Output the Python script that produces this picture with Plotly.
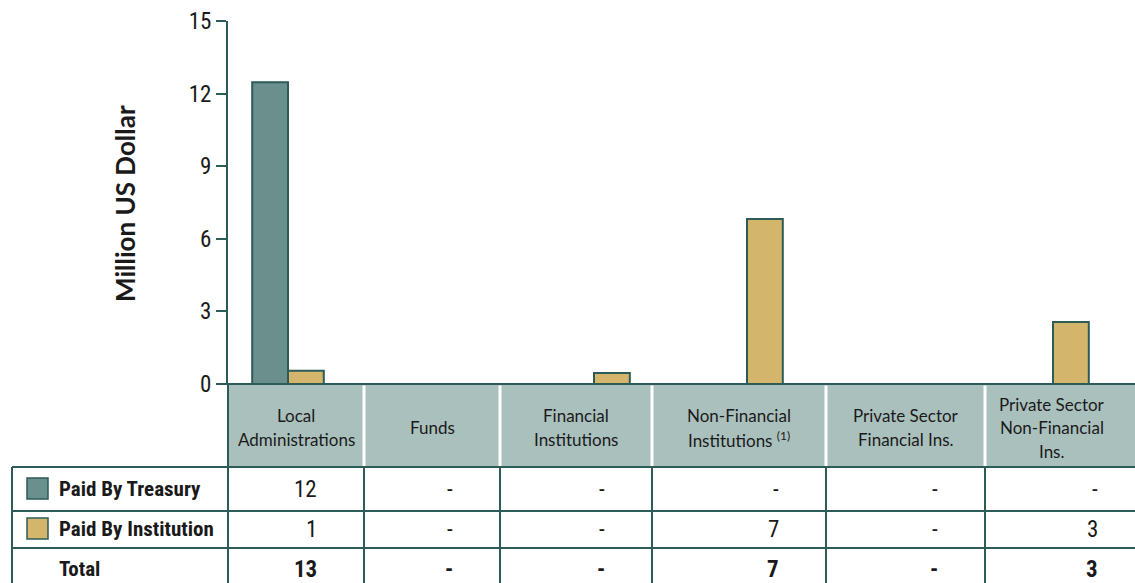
import plotly.graph_objects as go

# ---------------- data ----------------
categories = ["Local Administrations", "Funds", "Financial Institutions",
              "Non-Financial Institutions", "Private Sector Financial Ins.",
              "Private Sector Non-Financial Ins."]
header_labels = [["Local", "Administrations"], ["Funds"], ["Financial", "Institutions"],
                 ["Non-Financial", "Institutions <sup>(1)</sup>"], ["Private Sector", "Financial Ins."],
                 ["Private Sector", "Non-Financial", "Ins."]]
paid_by_treasury = [12.47, None, None, None, None, None]
paid_by_institution = [0.55, None, 0.45, 6.82, None, 2.56]
row_treasury = ["12", "-", "-", "-", "-", "-"]
row_institution = ["1", "-", "-", "7", "-", "3"]
row_total = ["13", "-", "-", "7", "-", "3"]
y_ticks = [0, 3, 6, 9, 12, 15]

# ---------------- style ----------------
W, H = 1135, 583
L, T, B = 228, 21, 384          # plot area pixels (left, top, bottom)
DARK = "#2d5c58"
TEAL = "#6b8f8c"
GOLD = "#d3b66b"
HEAD = "#aac0bd"
TXT = "#1a1a1a"
NARROW = "Liberation Sans Narrow, Arial Narrow, Roboto Condensed, sans-serif"
HUM = "Lato, Open Sans, sans-serif"

def px(x):
    return (x - L) / (W - L)

def py(y):
    return (B - y) / (B - T)

xs = list(range(len(categories)))
bw = 0.234
fig = go.Figure()
fig.add_trace(go.Bar(x=xs, y=paid_by_treasury, name="Paid By Treasury",
                     width=bw, offset=-bw, marker=dict(color=TEAL, line=dict(color=DARK, width=2))))
fig.add_trace(go.Bar(x=xs, y=paid_by_institution, name="Paid By Institution",
                     width=bw, offset=0, marker=dict(color=GOLD, line=dict(color=DARK, width=2))))

# category spacing ~153px, first center at 288px
step = 153.0
c0 = 288.0
xr = [(L - c0) / step, (W - c0) / step]

shapes = []
annotations = []

col_edges = [228, 364, 500, 652, 826, 985, 1140]
row_lines = [467, 511, 548]

# header background
shapes.append(dict(type="rect", xref="paper", yref="paper", x0=px(228), x1=px(1140),
                   y0=py(467), y1=py(384), fillcolor=HEAD, line=dict(width=0), layer="below"))
# white header separators
for e in col_edges[1:-1]:
    shapes.append(dict(type="line", xref="paper", yref="paper", x0=px(e), x1=px(e),
                       y0=py(467), y1=py(385.5), line=dict(color="white", width=3)))
# horizontal table lines
for r in row_lines:
    shapes.append(dict(type="line", xref="paper", yref="paper", x0=px(12), x1=px(1140),
                       y0=py(r), y1=py(r), line=dict(color=DARK, width=2)))
# vertical body lines
for e in col_edges[:-1]:
    shapes.append(dict(type="line", xref="paper", yref="paper", x0=px(e), x1=px(e),
                       y0=py(600), y1=py(467 if e != 228 else 384), line=dict(color=DARK, width=2)))
shapes.append(dict(type="line", xref="paper", yref="paper", x0=px(12), x1=px(12),
                   y0=py(600), y1=py(467), line=dict(color=DARK, width=2)))
# baseline
shapes.append(dict(type="line", xref="paper", yref="paper", x0=px(218), x1=px(1140),
                   y0=py(384), y1=py(384), line=dict(color=DARK, width=2)))

# legend squares
for (y0, y1, c) in [(478, 499, TEAL), (518, 539, GOLD)]:
    shapes.append(dict(type="rect", xref="paper", yref="paper", x0=px(27), x1=px(48),
                       y0=py(y1), y1=py(y0), fillcolor=c, line=dict(color=DARK, width=1.5)))

# header texts (one annotation per line, ~23.5px line spacing)
LS = 23.5
for i, lines in enumerate(header_labels):
    cx = (col_edges[i] + col_edges[i + 1]) / 2
    if i == 5:
        cx = 1052
    n = len(lines)
    for k, line in enumerate(lines):
        yc = 427.5 + (k - (n - 1) / 2) * LS
        annotations.append(dict(xref="paper", yref="paper", x=px(cx), y=py(yc), text=line,
                                showarrow=False, xanchor="center", yanchor="middle", align="center",
                                font=dict(family=HUM, size=17, color=TXT)))

# row labels
row_specs = [("Paid By Treasury", row_treasury, 489, False),
             ("Paid By Institution", row_institution, 529, False),
             ("Total", row_total, 569, True)]
for label, vals, yc, bold in row_specs:
    annotations.append(dict(xref="paper", yref="paper", x=px(57), y=py(yc), text=label,
                            showarrow=False, xanchor="left", yanchor="middle",
                            font=dict(family=NARROW, size=21, color=TXT, weight="bold")))
    for i, v in enumerate(vals):
        right = col_edges[i + 1] - 45 if i < 5 else 1100
        annotations.append(dict(xref="paper", yref="paper", x=px(right), y=py(yc), text=v,
                                showarrow=False, xanchor="right", yanchor="middle",
                                font=dict(family=NARROW, size=23, color=TXT,
                                          weight="bold" if bold else "normal")))

# y-axis title
annotations.append(dict(xref="paper", yref="paper", x=px(125), y=py(204), text="Million US Dollar",
                        showarrow=False, textangle=-90, xanchor="center", yanchor="middle",
                        font=dict(family=HUM, size=26, color=TXT, weight="bold")))

fig.update_layout(
    width=W, height=H, autosize=False,
    margin=dict(l=L, r=0, t=T, b=H - B, pad=0),
    paper_bgcolor="white", plot_bgcolor="white",
    showlegend=False, barmode="overlay",
    shapes=shapes, annotations=annotations,
    xaxis=dict(range=xr, showticklabels=False, showgrid=False, zeroline=False,
               showline=False, ticks="", fixedrange=True),
    yaxis=dict(range=[0, 15], tickvals=y_ticks, showgrid=False, zeroline=False,
               showline=True, linecolor=DARK, linewidth=2, ticks="outside",
               ticklen=10, tickwidth=2, tickcolor=DARK,
               tickfont=dict(family=NARROW, size=23, color=TXT), fixedrange=True),
)

fig.write_html("out.html", config={"displayModeBar": False},
               post_script="document.body.style.margin='0px';")
